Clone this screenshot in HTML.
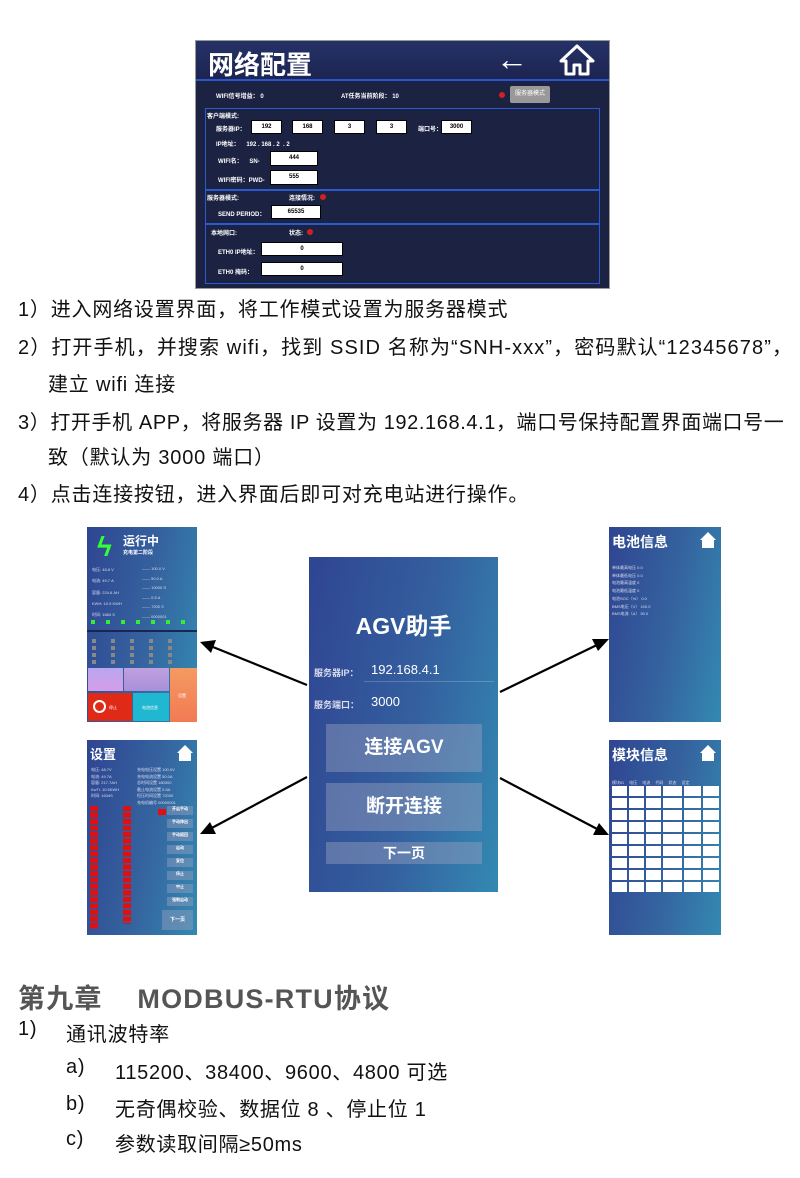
<!DOCTYPE html>
<html><head><meta charset="utf-8"><style>
*{margin:0;padding:0;box-sizing:border-box}
body{width:800px;height:1178px;background:#fff;position:relative;overflow:hidden;font-family:"Liberation Sans","Noto Sans CJK SC",sans-serif;color:#111}
.a{position:absolute}
.t{font-size:20px;letter-spacing:0.8px;white-space:nowrap;color:#111}
.ph{position:absolute;background:linear-gradient(100deg,#2f4592 0%,#35649f 55%,#3389b2 100%);overflow:hidden;color:#fff}
.w{color:#fff;font-weight:bold;position:absolute;white-space:nowrap}
.box{position:absolute;background:#fff;border:1px solid #000;color:#000;font-size:6px;font-weight:bold;text-align:center}
.sm{position:absolute;font-size:4px;color:#dde;white-space:nowrap}
.red{position:absolute;width:8px;height:6px;background:#e01010}
.btn{position:absolute;background:rgba(150,160,190,.45);color:#fff;font-weight:bold;text-align:center}
</style></head><body>

<div class="a" style="left:195px;top:40px;width:415px;height:249px;background:#1c2242;border:1px solid #999">
 <div class="a" style="left:0;top:0;width:413px;height:38px;background:linear-gradient(#253268,#1d2450)"></div>
 <div class="a" style="left:0;top:38px;width:413px;height:2px;background:#2a55d0"></div>
 <div class="w" style="left:12px;top:4px;font-size:26px">网络配置</div>
 <div class="w" style="left:300px;top:0px;font-size:32px;font-weight:normal">←</div>
 <svg class="a" style="left:363px;top:3px" width="36" height="32"><path d="M18 2 L34 17 H29 V30 H21 V21 H15 V30 H7 V17 H2 Z" fill="none" stroke="#fff" stroke-width="3" stroke-linejoin="round"/></svg>
 <div class="w" style="left:20px;top:50px;font-size:6px">WIFI信号增益： 0</div>
 <div class="w" style="left:145px;top:50px;font-size:6px">AT任务当前阶段： 10</div>
 <div class="a" style="left:303px;top:51px;width:6px;height:6px;border-radius:50%;background:#d02020"></div>
 <div class="a" style="left:314px;top:45px;width:40px;height:17px;background:#999;border-radius:2px;color:#fff;font-size:6px;text-align:center;line-height:17px">服务器模式</div>
 <div class="a" style="left:9px;top:67px;width:395px;height:82px;border:1px solid #2a5ad0"></div>
 <div class="a" style="left:9px;top:149px;width:395px;height:34px;border:1px solid #2a5ad0"></div>
 <div class="a" style="left:9px;top:183px;width:395px;height:60px;border:1px solid #2a5ad0"></div>
 <div class="w" style="left:11px;top:70px;font-size:6px">客户端模式:</div>
 <div class="w" style="left:20px;top:83px;font-size:6px">服务器IP：</div>
 <div class="box" style="left:55px;top:79px;width:31px;height:14px;line-height:12px">192</div>
 <div class="box" style="left:96px;top:79px;width:31px;height:14px;line-height:12px">168</div>
 <div class="box" style="left:138px;top:79px;width:31px;height:14px;line-height:12px">3</div>
 <div class="box" style="left:180px;top:79px;width:31px;height:14px;line-height:12px">3</div>
 <div class="w" style="left:222px;top:83px;font-size:6px">端口号：</div>
 <div class="box" style="left:245px;top:79px;width:31px;height:14px;line-height:12px">3000</div>
 <div class="w" style="left:20px;top:98px;font-size:6px">IP地址：&nbsp;&nbsp;&nbsp;&nbsp;192 . 168 . 2 &nbsp;. 2</div>
 <div class="w" style="left:22px;top:115px;font-size:6px">WIFI名：&nbsp;&nbsp;&nbsp;&nbsp;SN-</div>
 <div class="box" style="left:74px;top:110px;width:48px;height:15px;line-height:13px">444</div>
 <div class="w" style="left:22px;top:134px;font-size:6px">WIFI密码：PWD-</div>
 <div class="box" style="left:74px;top:129px;width:48px;height:15px;line-height:13px">555</div>
 <div class="w" style="left:11px;top:152px;font-size:6px">服务器模式:</div>
 <div class="w" style="left:93px;top:152px;font-size:6px">连接情况:</div>
 <div class="a" style="left:124px;top:153px;width:6px;height:6px;border-radius:50%;background:#d02020"></div>
 <div class="w" style="left:22px;top:168px;font-size:6px">SEND PERIOD：</div>
 <div class="box" style="left:75px;top:164px;width:50px;height:14px;line-height:12px">65535</div>
 <div class="w" style="left:15px;top:187px;font-size:6px">本地网口:</div>
 <div class="w" style="left:93px;top:187px;font-size:6px">状态:</div>
 <div class="a" style="left:111px;top:188px;width:6px;height:6px;border-radius:50%;background:#d02020"></div>
 <div class="w" style="left:22px;top:206px;font-size:6px">ETH0 IP地址：</div>
 <div class="box" style="left:65px;top:201px;width:82px;height:14px;line-height:12px">0</div>
 <div class="w" style="left:22px;top:226px;font-size:6px">ETH0 掩码：</div>
 <div class="box" style="left:65px;top:221px;width:82px;height:14px;line-height:12px">0</div>
</div>

<div class="a t" style="left:18px;top:293px">1）进入网络设置界面，将工作模式设置为服务器模式</div>
<div class="a t" style="left:18px;top:331px;letter-spacing:1.1px">2）打开手机，并搜索 wifi，找到 SSID 名称为“SNH-xxx”，密码默认“12345678”，</div>
<div class="a t" style="left:48px;top:368px">建立 wifi 连接</div>
<div class="a t" style="left:18px;top:406px;letter-spacing:0.6px">3）打开手机 APP，将服务器 IP 设置为 192.168.4.1，端口号保持配置界面端口号一</div>
<div class="a t" style="left:48px;top:441px">致（默认为 3000 端口）</div>
<div class="a t" style="left:18px;top:478px">4）点击连接按钮，进入界面后即可对充电站进行操作。</div>

<div class="ph" style="left:87px;top:527px;width:110px;height:195px">
 <div class="a" style="left:10px;top:4px;color:#3f3;font-size:28px;font-weight:bold">ϟ</div>
 <div class="w" style="left:36px;top:5px;font-size:12px">运行中</div>
 <div class="w" style="left:36px;top:22px;font-size:5px">充电第二阶段</div>
 <div class="sm" style="left:5px;top:37px;line-height:11.3px">电压: 48.8 V<br>电流: 49.7 A<br>容量: 224.6 AH<br>KWH: 10.9 KWH<br>时间: 1684 S</div>
 <div class="sm" style="left:55px;top:37px;line-height:9.6px">—— 100.0 V<br>—— 50.0 A<br>—— 10000 S<br>—— 0.5 A<br>—— 7200 S<br>—— 0000001</div>
 <div class="a" style="left:4px;top:93px;width:102px;height:4px;background:repeating-linear-gradient(90deg,#3e3 0 4px,transparent 4px 15px)"></div>
 <div class="a" style="left:0;top:103px;width:110px;height:2px;background:#1a2550"></div>
 <div class="a" style="left:5px;top:112px;width:95px;height:26px;background:repeating-linear-gradient(90deg,#888 0 4px,transparent 4px 19px);-webkit-mask:repeating-linear-gradient(#000 0 4px,transparent 4px 7px);mask:repeating-linear-gradient(#000 0 4px,transparent 4px 7px)"></div>
 <div class="a" style="left:1px;top:141px;width:35px;height:23px;background:linear-gradient(#b9a6f0,#d59ee8)"></div>
 <div class="a" style="left:37px;top:141px;width:45px;height:23px;background:linear-gradient(#c0a0e0,#a890d8)"></div>
 <div class="a" style="left:83px;top:141px;width:27px;height:54px;background:linear-gradient(#f49a60,#f27a55)"></div>
 <div class="a" style="left:1px;top:166px;width:44px;height:28px;background:#e02a18"></div>
 <div class="a" style="left:6px;top:173px;width:13px;height:13px;border:2px solid #fff;border-radius:50%"></div>
 <div class="a" style="left:46px;top:166px;width:36px;height:28px;background:#20b8d0"></div>
 <div class="sm" style="left:55px;top:178px;color:#fff">电池信息</div>
 <div class="sm" style="left:22px;top:178px;color:#fff">停止</div>
 <div class="sm" style="left:91px;top:166px;color:#fff">设置</div>
</div>

<div class="ph" style="left:87px;top:740px;width:110px;height:195px">
 <div class="w" style="left:3px;top:4px;font-size:13px">设置</div>
 <svg class="a" style="left:89px;top:4px" width="18" height="18"><path d="M9 1 L17 9 H15 V17 H3 V9 H1Z" fill="#fff"/></svg>
 <div class="sm" style="left:4px;top:27px;line-height:6.5px">电压: 48.7V<br>电流: 49.7A<br>容量: 217.7AH<br>KwTi: 10.5KWH<br>时间: 1634S</div>
 <div class="sm" style="left:50px;top:27px;line-height:6.5px">充电电压设置 100.0V<br>充电电流设置 50.0A<br>总时间设置 180000<br>截止电流设置 0.5A<br>恒压时间设置 72000<br>充电机编号 00000001</div>
 <div class="a" style="left:3px;top:66px;width:8px;height:124px;background:repeating-linear-gradient(#e01010 0 5px,transparent 5px 6.5px)"></div>
 <div class="a" style="left:36px;top:66px;width:8px;height:118px;background:repeating-linear-gradient(#e01010 0 5px,transparent 5px 6.5px)"></div>
 <div class="red" style="left:71px;top:69px"></div>
 <div class="btn" style="left:80px;top:66px;width:26px;height:9px;font-size:4px">开启手动</div>
 <div class="btn" style="left:80px;top:79px;width:26px;height:9px;font-size:4px">手动伸出</div>
 <div class="btn" style="left:80px;top:92px;width:26px;height:9px;font-size:4px">手动缩回</div>
 <div class="btn" style="left:80px;top:105px;width:26px;height:9px;font-size:4px">启动</div>
 <div class="btn" style="left:80px;top:118px;width:26px;height:9px;font-size:4px">复位</div>
 <div class="btn" style="left:80px;top:131px;width:26px;height:9px;font-size:4px">停止</div>
 <div class="btn" style="left:80px;top:144px;width:26px;height:9px;font-size:4px">中止</div>
 <div class="btn" style="left:80px;top:157px;width:26px;height:9px;font-size:4px">强制启动</div>
 <div class="btn" style="left:75px;top:170px;width:31px;height:20px;font-size:5px;line-height:20px">下一页</div>
</div>

<div class="ph" style="left:309px;top:557px;width:189px;height:335px;background:linear-gradient(100deg,#2f4592 0%,#34609f 55%,#3389b2 100%)">
 <div class="w" style="left:0;width:189px;text-align:center;top:50px;font-size:23px">AGV助手</div>
 <div class="w" style="left:5px;top:109px;font-size:9px;color:#dde">服务器IP：</div>
 <div class="w" style="left:62px;top:105px;font-size:13px;font-weight:normal">192.168.4.1</div>
 <div class="a" style="left:55px;top:124px;width:130px;height:1px;background:rgba(255,255,255,.2)"></div>
 <div class="w" style="left:5px;top:141px;font-size:9px;color:#dde">服务端口：</div>
 <div class="w" style="left:62px;top:137px;font-size:13px;font-weight:normal">3000</div>
 <div class="btn" style="left:17px;top:167px;width:156px;height:48px;font-size:19px;line-height:48px">连接AGV</div>
 <div class="btn" style="left:17px;top:226px;width:156px;height:48px;font-size:19px;line-height:48px">断开连接</div>
 <div class="btn" style="left:17px;top:285px;width:156px;height:22px;font-size:14px;line-height:22px">下一页</div>
</div>

<div class="ph" style="left:609px;top:527px;width:112px;height:195px">
 <div class="w" style="left:3px;top:5px;font-size:14px">电池信息</div>
 <svg class="a" style="left:90px;top:4px" width="18" height="18"><path d="M9 1 L17 9 H15 V17 H3 V9 H1Z" fill="#fff"/></svg>
 <div class="sm" style="left:3px;top:37px;line-height:7.7px">单体最高电压 0.0<br>单体最低电压 0.0<br>电池最高温度 0<br>电池最低温度 0<br>电池SOC（%） 0.0<br>BMS电压（V） 100.0<br>BMS电流（A） 50.0</div>
</div>

<div class="ph" style="left:609px;top:740px;width:112px;height:195px">
 <div class="w" style="left:3px;top:5px;font-size:14px">模块信息</div>
 <svg class="a" style="left:90px;top:4px" width="18" height="18"><path d="M9 1 L17 9 H15 V17 H3 V9 H1Z" fill="#fff"/></svg>
 <div class="sm" style="left:3px;top:40px;word-spacing:4px">模块ID 电压 电流 代码 状态 设定</div>
 <div class="a" style="left:3px;top:46px;width:107px;height:108px;background:repeating-linear-gradient(90deg,#fff 0 15px,transparent 15px 17px,#fff 17px 32px,transparent 32px 34px,#fff 34px 49px,transparent 49px 51px,#fff 51px 70px,transparent 70px 72px,#fff 72px 89px,transparent 89px 91px,#fff 91px 107px);-webkit-mask:repeating-linear-gradient(#000 0 10px,transparent 10px 12px);mask:repeating-linear-gradient(#000 0 10px,transparent 10px 12px)"></div>
</div>

<svg class="a" style="left:0;top:0" width="800" height="1178">
 <g stroke="#000" stroke-width="2.2" fill="none">
  <line x1="307" y1="685" x2="208" y2="645"/>
  <line x1="307" y1="777" x2="208" y2="830"/>
  <line x1="500" y1="692" x2="601" y2="643"/>
  <line x1="500" y1="778" x2="601" y2="831"/>
 </g>
 <g fill="#000">
  <path d="M200 642 L216 640 L211 653Z"/>
  <path d="M200 834 L210 822 L216 834Z"/>
  <path d="M609 639 L598 651 L592 639Z"/>
  <path d="M609 835 L593 835 L599 823Z"/>
 </g>
</svg>

<div class="a" style="left:18px;top:977px;font-size:27px;letter-spacing:1.2px;font-weight:bold;color:#555;white-space:nowrap">第九章&nbsp;&nbsp;&nbsp;&nbsp;MODBUS-RTU协议</div>
<div class="a t" style="left:18px;top:1018px">1)</div>
<div class="a t" style="left:66px;top:1018px">通讯波特率</div>
<div class="a t" style="left:66px;top:1056px">a)</div>
<div class="a t" style="left:115px;top:1056px;font-size:20px;letter-spacing:0.7px">115200、38400、9600、4800 可选</div>
<div class="a t" style="left:66px;top:1093px">b)</div>
<div class="a t" style="left:115px;top:1093px;font-size:20px;letter-spacing:0.7px">无奇偶校验、数据位 8 、停止位 1</div>
<div class="a t" style="left:66px;top:1128px">c)</div>
<div class="a t" style="left:115px;top:1128px;font-size:20px;letter-spacing:0.7px">参数读取间隔≥50ms</div>
</body></html>
